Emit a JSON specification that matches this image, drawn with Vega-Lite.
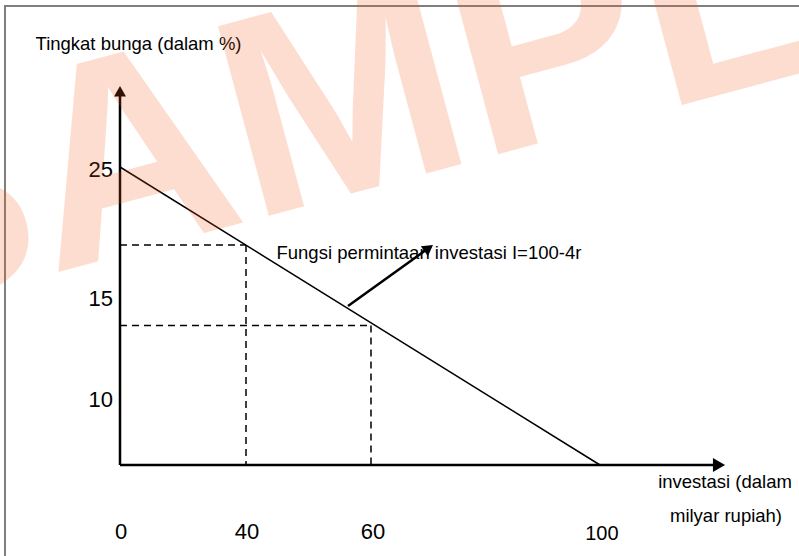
{
  "$schema": "https://vega.github.io/schema/vega-lite/v6.json",
  "width": 799,
  "height": 556,
  "autosize": {"type": "none"},
  "padding": 0,
  "background": "white",
  "config": {"view": {"stroke": null}},
  "encoding": {
    "x": {"field": "x", "type": "quantitative", "axis": null, "scale": {"domain": [-25, 141.4583], "nice": false, "zero": false}},
    "y": {"field": "y", "type": "quantitative", "axis": null, "scale": {"domain": [-7.634, 39.010], "nice": false, "zero": false}}
  },
  "layer": [
    {
      "data": {"values": [{"x": -23.96, "y": 38.51, "x2": 160, "y2": -20}]},
      "mark": {"type": "rect", "fillOpacity": 0, "stroke": "#7f7f7f", "strokeWidth": 2},
      "encoding": {"x2": {"field": "x2"}, "y2": {"field": "y2"}}
    },
    {
      "data": {"values": [{"x": 0, "y": 0, "x2": 0, "y2": 31.29}, {"x": 0, "y": 0, "x2": 123.96, "y2": 0}]},
      "mark": {"type": "rule", "color": "black", "strokeWidth": 2.5},
      "encoding": {"x2": {"field": "x2"}, "y2": {"field": "y2"}}
    },
    {
      "data": {"values": [{"x": 0, "y": 31.36}]},
      "mark": {"type": "point", "shape": "triangle-up", "size": 144, "filled": true, "color": "black", "opacity": 1},
      "encoding": {}
    },
    {
      "data": {"values": [{"x": 124.79, "y": 0}]},
      "mark": {"type": "point", "shape": "triangle-right", "size": 196, "filled": true, "color": "black", "opacity": 1},
      "encoding": {}
    },
    {
      "data": {"values": [{"x": 0, "y": 25, "x2": 100, "y2": 0}]},
      "mark": {"type": "rule", "color": "black", "strokeWidth": 1.5},
      "encoding": {"x2": {"field": "x2"}, "y2": {"field": "y2"}}
    },
    {
      "data": {"values": [
        {"x": 0, "y": 18.46, "x2": 26.25, "y2": 18.46},
        {"x": 26.25, "y": 18.46, "x2": 26.25, "y2": 0},
        {"x": 0, "y": 11.7, "x2": 52.29, "y2": 11.7},
        {"x": 52.29, "y": 11.7, "x2": 52.29, "y2": 0}
      ]},
      "mark": {"type": "rule", "color": "black", "strokeWidth": 1.5, "strokeDash": [7, 5]},
      "encoding": {"x2": {"field": "x2"}, "y2": {"field": "y2"}}
    },
    {
      "data": {"values": [{"x": 47.5, "y": 13.34, "x2": 64.31, "y2": 18.2}]},
      "mark": {"type": "rule", "color": "black", "strokeWidth": 2.5},
      "encoding": {"x2": {"field": "x2"}, "y2": {"field": "y2"}}
    },
    {
      "data": {"values": [{"x": 64.31, "y": 18.2}]},
      "mark": {"type": "point", "shape": "triangle-right", "size": 150, "angle": -35.7, "filled": true, "color": "black", "opacity": 1},
      "encoding": {}
    },
    {
      "data": {"values": [
        {"x": -17.6, "y": 34.82, "label": "Tingkat bunga (dalam %)"},
        {"x": 32.6, "y": 17.28, "label": "Fungsi permintaan investasi I=100-4r"}
      ]},
      "mark": {"type": "text", "font": "Liberation Sans", "fontSize": 18.5, "align": "left", "baseline": "alphabetic", "color": "black"},
      "encoding": {"text": {"field": "label"}}
    },
    {
      "data": {"values": [
        {"x": 126.04, "y": -1.9, "label": "investasi (dalam"},
        {"x": 126.25, "y": -4.75, "label": "milyar rupiah)"}
      ]},
      "mark": {"type": "text", "font": "Liberation Sans", "fontSize": 18.5, "align": "center", "baseline": "alphabetic", "color": "black"},
      "encoding": {"text": {"field": "label"}}
    },
    {
      "data": {"values": [
        {"x": 100.4, "y": -6.29, "label": "100"}
      ]},
      "mark": {"type": "text", "font": "Liberation Sans", "fontSize": 20, "align": "center", "baseline": "alphabetic", "color": "black"},
      "encoding": {"text": {"field": "label"}}
    },
    {
      "data": {"values": [
        {"x": -1.458, "y": 24.16, "label": "25"},
        {"x": -1.458, "y": 13.34, "label": "15"},
        {"x": -1.458, "y": 4.87, "label": "10"}
      ]},
      "mark": {"type": "text", "font": "Liberation Sans", "fontSize": 22, "align": "right", "baseline": "alphabetic", "color": "black"},
      "encoding": {"text": {"field": "label"}}
    },
    {
      "data": {"values": [
        {"x": 0.21, "y": -6.23, "label": "0"},
        {"x": 26.46, "y": -6.23, "label": "40"},
        {"x": 52.7, "y": -6.23, "label": "60"}
      ]},
      "mark": {"type": "text", "font": "Liberation Sans", "fontSize": 22, "align": "center", "baseline": "alphabetic", "color": "black"},
      "encoding": {"text": {"field": "label"}}
    },
    {
      "data": {"values": [{"x": -52.5, "y": 11.91, "label": "SAMPLE"}]},
      "mark": {"type": "text", "font": "Liberation Sans", "fontWeight": "bold", "fontSize": 285, "angle": -15, "align": "left", "baseline": "alphabetic", "color": "#f25a14", "opacity": 0.2},
      "encoding": {"text": {"field": "label"}}
    }
  ]
}
